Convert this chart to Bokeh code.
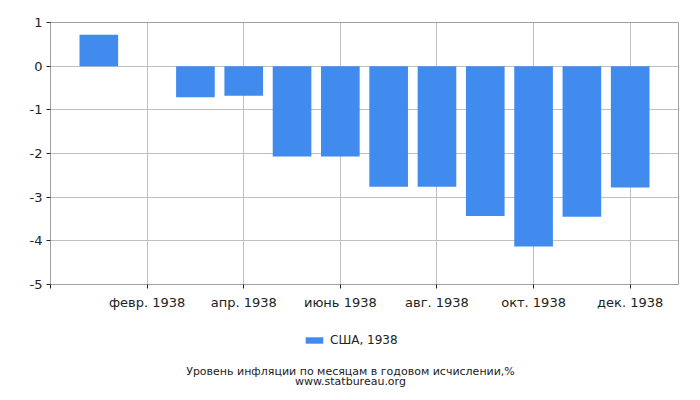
from bokeh.plotting import figure
from bokeh.models import Range1d, FixedTicker, Legend, LegendItem, Label, ColumnDataSource
from bokeh.layouts import column
from bokeh.embed import file_html
from bokeh.resources import INLINE

months = [1, 2, 3, 4, 5, 6, 7, 8, 9, 10, 11, 12]
values = [0.72, 0.0, -0.71, -0.68, -2.07, -2.07, -2.76, -2.76, -3.43, -4.13, -3.45, -2.78]
tick_positions = [0, 2, 4, 6, 8, 10, 12]
tick_labels = ["", "февр. 1938", "апр. 1938", "июнь 1938", "авг. 1938", "окт. 1938", "дек. 1938"]
y_ticks = [-5, -4, -3, -2, -1, 0, 1]
y_labels = ["-5", "-4", "-3", "-2", "-1", "0", "1"]
series_name = "США, 1938"
title_text = "Уровень инфляции по месяцам в годовом исчислении,%"
source_text = "www.statbureau.org"

FONT = "DejaVu Sans"
BAR = "#418BEF"
W = 692
H_TOP = 320
H_BOT = 72
LEFT = 50
RIGHT = 14

p = figure(width=W, height=H_TOP, output_backend="svg", toolbar_location=None,
           x_range=Range1d(0, 13), y_range=Range1d(-5, 1),
           min_border_left=LEFT, min_border_top=22, min_border_right=RIGHT, min_border_bottom=36)
p.background_fill_color = "white"
p.outline_line_color = "#a0a0a0"

src = ColumnDataSource(dict(x=months, top=values))
r = p.vbar(x="x", top="top", bottom=0, width=0.8, source=src, fill_color=BAR, line_color=None)

p.xaxis.ticker = FixedTicker(ticks=tick_positions)
p.xaxis.major_label_overrides = {t: l for t, l in zip(tick_positions, tick_labels)}
p.yaxis.ticker = FixedTicker(ticks=y_ticks)
p.yaxis.major_label_overrides = {t: l for t, l in zip(y_ticks, y_labels)}
for ax in (p.xaxis[0], p.yaxis[0]):
    ax.axis_line_color = "#a0a0a0"
    ax.major_tick_line_color = "#222222"
    ax.major_tick_out = 4
    ax.major_tick_in = 0
    ax.minor_tick_line_color = None
    ax.major_label_text_font = FONT
    ax.major_label_text_font_size = "13px"
    ax.major_label_text_color = "#222222"
p.xaxis.major_label_standoff = 6
p.yaxis.major_label_standoff = 4

p.xgrid.ticker = FixedTicker(ticks=tick_positions)
p.ygrid.ticker = FixedTicker(ticks=y_ticks)
p.xgrid.grid_line_color = "#c0c0c0"
p.ygrid.grid_line_color = "#c0c0c0"

# lower panel: legend and captions (data coordinates = page pixels)
p2 = figure(width=W, height=H_BOT, output_backend="svg", toolbar_location=None,
            x_range=Range1d(LEFT, W - RIGHT), y_range=Range1d(H_TOP + H_BOT, H_TOP),
            x_axis_type=None, y_axis_type=None,
            min_border_left=LEFT, min_border_right=RIGHT, min_border_top=0, min_border_bottom=0)
p2.outline_line_color = None
p2.grid.visible = False
r2 = p2.vbar(x="x", top="top", bottom=0, width=0.8, source=src, fill_color=BAR, line_color=None)
r2.visible = False

legend = Legend(items=[LegendItem(label=series_name, renderers=[r2])],
                orientation="horizontal", location=(303 - LEFT, 45),
                label_text_font=FONT, label_text_font_size="12px", label_text_color="#222222",
                glyph_width=22, glyph_height=8, label_standoff=5, padding=0, margin=0,
                label_height=8, border_line_color=None, background_fill_alpha=0,
                click_policy="none")
p2.add_layout(legend, "center")

p2.add_layout(Label(x=350, y=371, text=title_text,
                    text_align="center", text_baseline="middle", text_font=FONT,
                    text_font_size="11px", text_color="#222222"))
p2.add_layout(Label(x=350, y=381, text=source_text,
                    text_align="center", text_baseline="middle", text_font=FONT,
                    text_font_size="11px", text_color="#222222"))

layout = column(p, p2, spacing=0)
open("out.html", "w").write(file_html(layout, INLINE))
